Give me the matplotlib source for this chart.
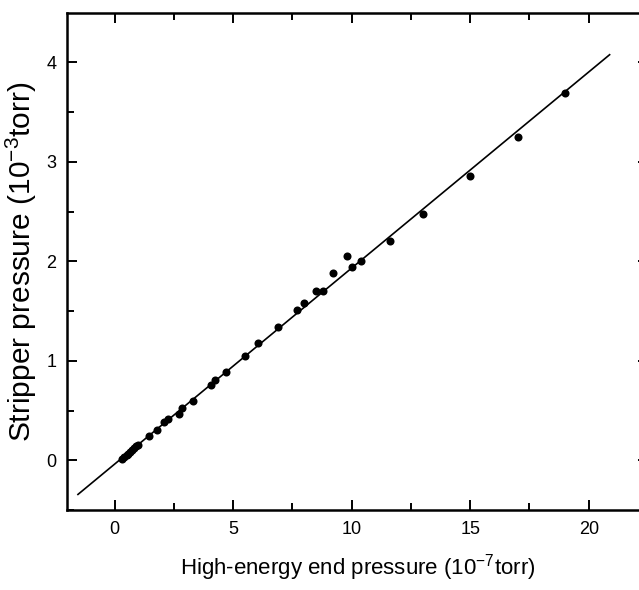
import matplotlib
matplotlib.use("Agg")
import matplotlib.pyplot as plt
import numpy as np

# measured points: high-energy end pressure (1e-7 torr) vs stripper pressure (1e-3 torr)
he_pressure = [0.3, 0.4, 0.5, 0.55, 0.65, 0.75, 0.8, 0.9, 1.0,
               1.45, 1.8, 2.1, 2.25, 2.7, 2.85, 3.3, 4.05, 4.25, 4.7,
               5.5, 6.05, 6.9, 7.7, 8.0, 8.5, 8.8, 9.2, 9.8, 10.0,
               10.4, 11.6, 13.0, 15.0, 17.0, 19.0]
stripper_pressure = [0.01, 0.03, 0.05, 0.06, 0.08, 0.10, 0.12, 0.14, 0.15,
                     0.24, 0.30, 0.38, 0.41, 0.47, 0.53, 0.60, 0.76, 0.81, 0.89,
                     1.05, 1.18, 1.34, 1.51, 1.58, 1.70, 1.70, 1.88, 2.05, 1.94,
                     2.00, 2.20, 2.48, 2.86, 3.25, 3.69]

# linear fit line
fit_slope = 0.1971
fit_intercept = -0.038
fit_range = [-1.55, 20.88]

plt.rcParams['font.family'] = ['Liberation Sans', 'DejaVu Sans']
plt.rcParams['mathtext.default'] = 'regular'

fig = plt.figure(figsize=(6.39, 5.9), dpi=100)
ax = fig.add_axes([0.1053, 0.1356, 0.9088, 0.8429])

xf = np.array(fit_range)
ax.plot(xf, fit_slope * xf + fit_intercept, color='black', lw=1.2)
ax.plot(he_pressure, stripper_pressure, 'o', color='black', markersize=5.8, markeredgewidth=0)

ax.set_xlim(-2, 22.5)
ax.set_ylim(-0.5, 4.5)
ax.set_xticks([0, 5, 10, 15, 20])
ax.set_yticks([0, 1, 2, 3, 4])
ax.set_xticks(np.arange(2.5, 22.5, 5), minor=True)
ax.set_yticks(np.arange(-0.5, 4.5, 1), minor=True)

ax.tick_params(which='both', direction='in', top=True, right=True, width=1.4, labelsize=13)
ax.tick_params(which='major', length=7.5, pad=8)
ax.tick_params(which='minor', length=4.8)
for s in ax.spines.values():
    s.set_linewidth(1.8)

ax.set_xlabel(r'High-energy end pressure (10$^{-7}$torr)', fontsize=16, labelpad=10)
ax.set_ylabel(r'Stripper pressure (10$^{-3}$torr)', fontsize=21.5, labelpad=5)

fig.savefig('out.png', dpi=100)
